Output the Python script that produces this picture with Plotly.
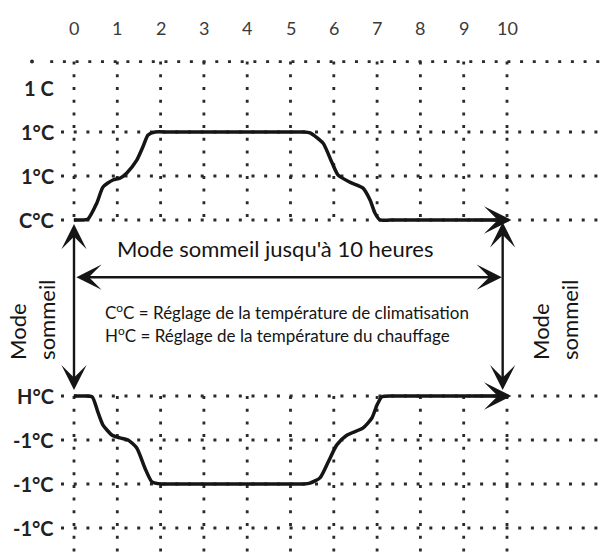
import plotly.graph_objects as go

# Hours of the sleep programme and their axis labels
hours = list(range(11))
hour_labels = [str(h) for h in hours]

# Temperature levels (one unit per degree step) and their labels
level_values = [3, 2, 1, 0, -4, -5, -6, -7]
level_labels = ["1 C", "1°C", "1°C", "C°C", "H°C", "-1°C", "-1°C", "-1°C"]
grid_levels = [2, 1, 0, -4, -5, -6, -7]
top_edge = 3.6
cool_set = 0
heat_set = -4
sleep_start = 0
sleep_end = 10

# Cooling setpoint profile during sleep mode
cool_x = [0, 0.2, 0.32, 0.53, 0.67, 0.9, 1.06, 1.22, 1.45, 1.59, 1.71, 1.87, 2.2,
          3.0, 4.0, 5.0, 5.3, 5.45, 5.75, 5.96, 6.1, 6.37, 6.67, 6.84, 6.95, 7.07,
          7.3, 8.0, 9.0, 10]
cool_y = [0, 0, 0.02, 0.39, 0.75, 0.91, 0.95, 1.07, 1.36, 1.66, 1.93, 2.0, 2.0,
          2.0, 2.0, 2.0, 2.0, 1.98, 1.75, 1.3, 1.02, 0.86, 0.73, 0.45, 0.16, 0.0,
          0, 0, 0, 0]

# Heating setpoint profile during sleep mode
heat_x = [0, 0.25, 0.42, 0.55, 0.67, 0.88, 1.06, 1.25, 1.45, 1.64, 1.80, 2.03, 2.3,
          3.0, 4.0, 5.0, 5.3, 5.45, 5.68, 5.87, 6.07, 6.3, 6.67, 6.88, 7.0, 7.11,
          7.35, 8.0, 9.0, 10]
heat_y = [-4, -4, -4.02, -4.36, -4.66, -4.89, -4.95, -5.0, -5.18, -5.64, -5.95, -6.0, -6.0,
          -6.0, -6.0, -6.0, -6.0, -5.98, -5.86, -5.5, -5.11, -4.89, -4.73, -4.5, -4.2, -4.02,
          -4, -4, -4, -4]

X_RANGE = [-1.709, 12.194]
Y_RANGE = [-7.545, 5.0]
INK = "#151515"
GRID = "#2a2a2a"
FONT = "Lato"
DOTS = "3px,9.7px"
HEAD = 1.75

fig = go.Figure()

# dotted vertical grid (above the cooling band and below the heating band)
vx, vy = [], []
for h in hours:
    vx += [h, h, None, h, h, None]
    vy += [top_edge, cool_set, None, heat_set, Y_RANGE[0] - 0.2, None]
fig.add_trace(go.Scatter(x=vx, y=vy, mode="lines",
                         line=dict(color=GRID, width=2.8, dash=DOTS),
                         hoverinfo="skip", showlegend=False))

# dotted horizontal grid
hx, hy = [], []
for lv in grid_levels:
    hx += [-0.3, X_RANGE[1] + 0.3, None]
    hy += [lv, lv, None]
hx += [-0.55, X_RANGE[1] + 0.3, None]
hy += [top_edge, top_edge, None]
fig.add_trace(go.Scatter(x=hx, y=hy, mode="lines",
                         line=dict(color=GRID, width=2.8, dash=DOTS),
                         hoverinfo="skip", showlegend=False))
fig.add_trace(go.Scatter(x=[-0.97], y=[top_edge], mode="markers",
                         marker=dict(color=GRID, size=4),
                         hoverinfo="skip", showlegend=False))

# setpoint curves
for xs, ys in ((cool_x, cool_y), (heat_x, heat_y)):
    fig.add_trace(go.Scatter(x=xs, y=ys, mode="lines",
                             line=dict(color=INK, width=3.5, shape="spline", smoothing=0.6),
                             hoverinfo="skip", showlegend=False))

annotations = []

# arrow heads at the end of each curve
for lv in (cool_set, heat_set):
    annotations.append(dict(x=sleep_end + 0.1, y=lv, ax=sleep_end - 0.8, ay=lv,
                            xref="x", yref="y", axref="x", ayref="y", text="",
                            showarrow=True, arrowhead=3, arrowsize=HEAD,
                            arrowwidth=2.6, arrowcolor=INK))

# double arrows marking the sleep-mode span
def double_arrow(x0, y0, x1, y1):
    return dict(x=x1, y=y1, ax=x0, ay=y0, xref="x", yref="y", axref="x", ayref="y",
                text="", showarrow=True, arrowhead=3, startarrowhead=3,
                arrowside="end+start", arrowsize=HEAD, startarrowsize=HEAD,
                arrowwidth=2.4, arrowcolor=INK)

annotations.append(double_arrow(sleep_start, heat_set + 0.1, sleep_start, cool_set - 0.09))
annotations.append(double_arrow(sleep_end - 0.1, heat_set + 0.1, sleep_end - 0.1, cool_set - 0.05))
annotations.append(double_arrow(sleep_start + 0.02, -1.3, sleep_end - 0.12, -1.3))

# hour labels along the top
for h, lab in zip(hours, hour_labels):
    annotations.append(dict(x=h, y=4.36, xref="x", yref="y", text=lab, showarrow=False,
                            font=dict(family=FONT, size=18, color="#3a3a3a"),
                            xanchor="center", yanchor="middle"))

# level labels on the left
for lv, lab in zip(level_values, level_labels):
    annotations.append(dict(x=-0.42, y=lv, xref="x", yref="y", text=lab, showarrow=False,
                            font=dict(family=FONT, size=20, color="#222222", weight="bold"),
                            xanchor="right", yanchor="middle"))

annotations.append(dict(x=4.64, y=-0.64, xref="x", yref="y",
                        text="Mode sommeil jusqu'à 10 heures", showarrow=False,
                        font=dict(family=FONT, size=22, color=INK),
                        xanchor="center", yanchor="middle"))
annotations.append(dict(x=0.67, y=-2.09, xref="x", yref="y",
                        text="C<sup>o</sup>C = Réglage de la température de climatisation",
                        showarrow=False, font=dict(family=FONT, size=17, color=INK),
                        xanchor="left", yanchor="middle"))
annotations.append(dict(x=0.67, y=-2.61, xref="x", yref="y",
                        text="H<sup>o</sup>C = Réglage de la température du chauffage",
                        showarrow=False, font=dict(family=FONT, size=17, color=INK),
                        xanchor="left", yanchor="middle"))

for xc in (-0.97, 11.11):
    annotations.append(dict(x=xc, y=-2.27, xref="x", yref="y", text="Mode<br>sommeil",
                            showarrow=False, textangle=-90, align="left",
                            font=dict(family=FONT, size=22, color=INK),
                            xanchor="center", yanchor="middle"))

fig.update_layout(
    width=602, height=552,
    margin=dict(l=0, r=0, t=0, b=0),
    paper_bgcolor="white", plot_bgcolor="white",
    xaxis=dict(range=X_RANGE, visible=False, fixedrange=True),
    yaxis=dict(range=Y_RANGE, visible=False, fixedrange=True),
    annotations=annotations,
    showlegend=False,
)

fig.write_html("out.html")
